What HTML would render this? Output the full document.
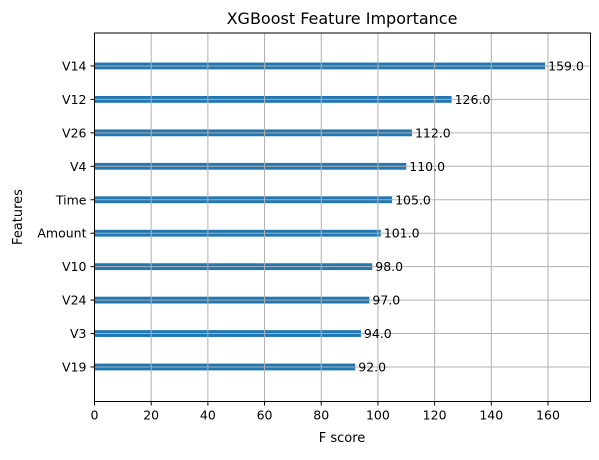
<!DOCTYPE html>
<html><head><meta charset="utf-8"><style>
body{margin:0;background:#fff;}
svg text{font-family:"DejaVu Sans","Liberation Sans",sans-serif;fill:#000;}
</style></head><body>
<svg id="chart" width="599" height="455" viewBox="0 0 599 455" xmlns="http://www.w3.org/2000/svg">
<text x="342" y="24" font-size="16" text-anchor="middle">XGBoost Feature Importance</text>
<text x="342" y="442" font-size="13" text-anchor="middle">F score</text>
<text transform="translate(22,217) rotate(-90)" font-size="13" text-anchor="middle">Features</text>
<g id="plot"></g>
</svg>
<script>
const features = ["V19","V3","V24","V10","Amount","Time","V4","V26","V12","V14"];
const scores = [92,94,97,98,101,105,110,112,126,159];
const xTicks = [0,20,40,60,80,100,120,140,160];
const L=94.5,R=590.5,T=33,B=401.5,XMAX=175;
const xs=v=>L+v/XMAX*(R-L);
const ys=i=>367-i*33.45;
const NS="http://www.w3.org/2000/svg";
const g=document.getElementById('plot');
function mk(t,a){const e=document.createElementNS(NS,t);for(const k in a)e.setAttribute(k,a[k]);g.appendChild(e);return e;}
// bars
scores.forEach((s,i)=>{
  const r=mk('rect',{x:L,y:ys(i)-3.4,width:xs(s)-L,height:6.8,fill:'#1f77b4'});
  
  
});
// grid
xTicks.forEach(t=>{
  const l=mk('line',{x1:xs(t),x2:xs(t),y1:T,y2:B,stroke:'#b0b0b0','stroke-width':1});
  
  
  const tk=mk('line',{x1:xs(t),x2:xs(t),y1:B,y2:B+4,stroke:'#000'});
  
  
  const tx=mk('text',{x:xs(t),y:B+18,'font-size':12.5,'text-anchor':'middle'});
  tx.textContent=t;
  
  
});
features.forEach((f,i)=>{
  const l=mk('line',{x1:L,x2:R,y1:ys(i),y2:ys(i),stroke:'#b0b0b0','stroke-width':1});
  
  
  const tk=mk('line',{x1:L-4,x2:L,y1:ys(i),y2:ys(i),stroke:'#000'});
  
  
  const tx=mk('text',{x:L-8,y:ys(i)+4.5,'font-size':12.5,'text-anchor':'end'});
  tx.textContent=f;
  
  
  const v=mk('text',{x:xs(scores[i])+3,y:ys(i)+4.5,'font-size':12.5});
  v.textContent=scores[i].toFixed(1);
  
  
});
const fr=mk('rect',{x:L,y:T,width:R-L,height:B-T,fill:'none',stroke:'#000','stroke-width':1});


</script>
</body></html>
